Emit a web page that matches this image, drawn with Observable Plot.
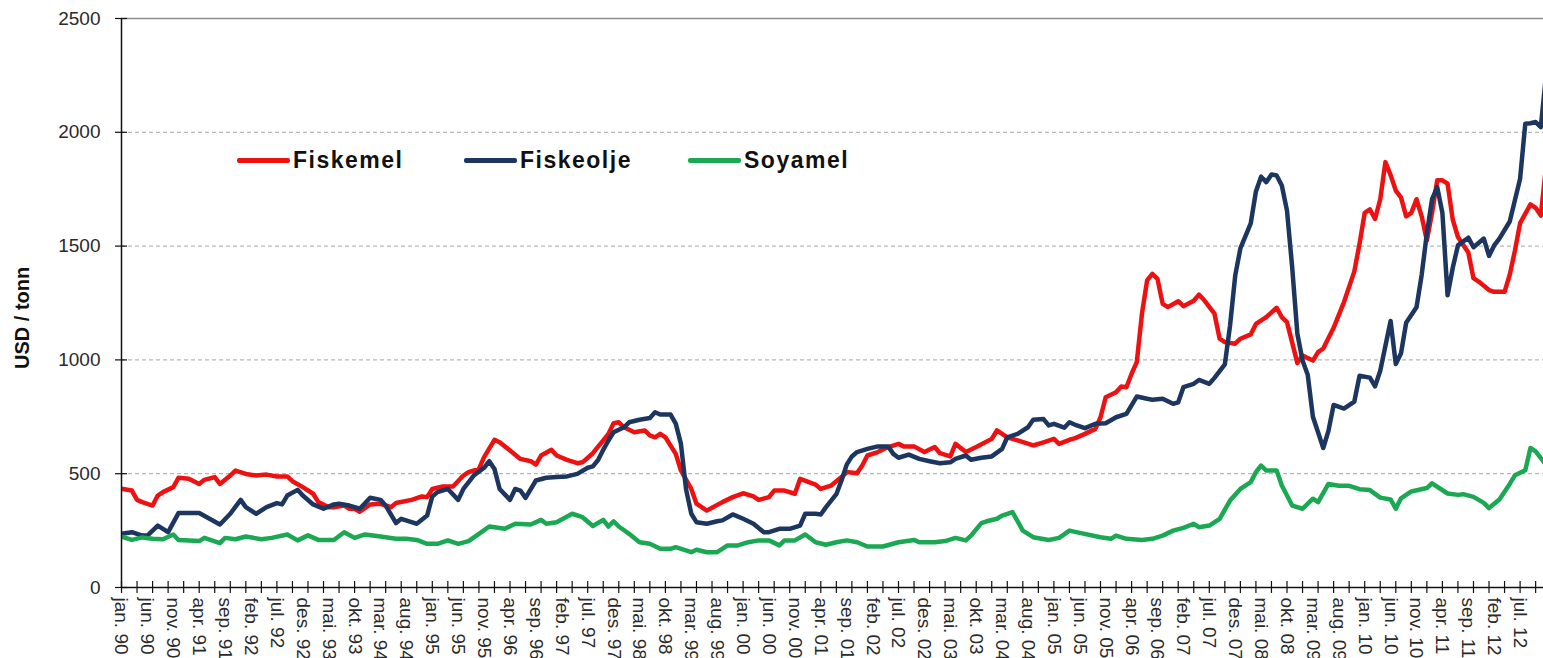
<!DOCTYPE html>
<html><head><meta charset="utf-8">
<script src="https://cdn.jsdelivr.net/npm/d3@7"></script>
<script src="https://cdn.jsdelivr.net/npm/@observablehq/plot@0.6"></script>
<style>
html,body{margin:0;padding:0;background:#fff;overflow:hidden;}
#wrap{position:relative;width:1543px;height:658px;}
.legend{font-family:"Liberation Sans",Arial,sans-serif;font-weight:bold;font-size:23px;letter-spacing:1.5px;color:#111;}
.item{position:absolute;top:147px;height:26px;display:flex;align-items:center;white-space:nowrap;}
.swatch{display:inline-block;width:53px;height:5px;border-radius:2px;margin-right:3px;}
</style></head><body><div id="wrap"></div>
<script>
// month index 0 = jan. 1990
const monthNames = ["jan","feb","mar","apr","mai","jun","jul","aug","sep","okt","nov","des"];
const seriesNames = ["Fiskemel","Fiskeolje","Soyamel"];
const seriesColors = ["#ee1111","#1c3660","#1aa852"];
const yTickValues = [0,500,1000,1500,2000,2500];
const gridValues = [500,1000,1500,2000];

const fiskemel = [[0,434],[2,426],[3,385],[4,375],[6,360],[7,404],[8,419],[10,441],[11,482],[13,478],[15,455],[16,473],[18,485],[19,455],[21,492],[22,514],[24,499],[26,492],[28,496],[30,488],[32,488],[33,467],[35,441],[37,412],[38,375],[40,353],[41,353],[43,360],[44,346],[45,346],[46,333],[48,365],[50,368],[52,353],[53,371],[56,385],[58,400],[59,397],[60,433],[62,444],[64,444],[66,492],[67,507],[69,521],[70,573],[72,649],[73,638],[75,602],[77,565],[79,555],[80,540],[81,580],[83,605],[84,580],[86,561],[88,546],[89,550],[91,590],[92,619],[93,646],[94,675],[95,722],[96,726],[97,704],[99,682],[101,690],[102,668],[103,660],[104,675],[105,660],[107,587],[108,514],[110,433],[111,368],[113,338],[114,350],[116,375],[118,397],[120,414],[122,400],[123,385],[125,397],[126,426],[128,426],[130,412],[131,477],[134,452],[135,433],[137,448],[139,485],[140,507],[142,502],[143,536],[144,580],[146,595],[148,617],[150,631],[151,620],[153,620],[155,595],[157,617],[158,590],[160,576],[161,631],[163,595],[165,617],[168,653],[169,690],[171,660],[173,646],[176,624],[178,638],[180,653],[181,631],[183,649],[184,655],[186,675],[188,697],[189,748],[190,836],[192,858],[193,883],[194,880],[195,939],[196,990],[197,1203],[198,1349],[199,1378],[200,1356],[201,1246],[202,1232],[204,1258],[205,1236],[207,1260],[208,1287],[209,1263],[211,1203],[212,1093],[213,1078],[215,1071],[216,1093],[218,1112],[219,1158],[221,1188],[223,1229],[224,1188],[225,1166],[227,986],[228,1019],[230,997],[231,1034],[232,1050],[234,1141],[236,1254],[238,1389],[239,1510],[240,1646],[241,1661],[242,1619],[243,1706],[244,1869],[245,1812],[246,1744],[247,1714],[248,1631],[249,1646],[250,1706],[251,1631],[252,1525],[253,1646],[254,1789],[255,1789],[256,1774],[257,1616],[258,1540],[260,1472],[261,1359],[262,1344],[264,1307],[265,1299],[267,1299],[268,1374],[269,1480],[270,1601],[272,1683],[273,1668],[274,1634],[275,1850]];

const fiskeolje = [[0,236],[2,243],[4,228],[5,228],[7,272],[9,243],[11,327],[15,327],[17,302],[19,277],[21,324],[23,385],[24,353],[26,324],[28,353],[30,371],[31,365],[32,404],[34,429],[35,404],[37,365],[39,346],[41,365],[42,368],[44,360],[46,346],[48,394],[50,385],[51,360],[53,283],[54,302],[56,287],[57,280],[59,316],[60,400],[61,419],[63,433],[65,385],[66,433],[68,492],[70,526],[71,555],[72,521],[73,433],[75,385],[76,433],[77,426],[78,394],[80,470],[82,482],[84,485],[86,488],[88,499],[90,526],[91,532],[92,560],[93,605],[94,646],[95,682],[97,704],[98,726],[100,737],[102,745],[103,770],[104,760],[106,760],[107,720],[108,631],[109,430],[110,324],[111,287],[113,280],[115,291],[116,295],[118,321],[120,302],[122,280],[124,243],[125,243],[127,258],[129,258],[131,272],[132,324],[134,324],[135,321],[136,353],[138,410],[139,470],[140,540],[141,576],[142,595],[144,609],[146,620],[148,620],[149,587],[150,570],[152,584],[154,565],[156,555],[158,546],[160,550],[161,565],[163,580],[164,561],[166,570],[168,576],[170,609],[171,660],[173,675],[175,704],[176,737],[178,740],[179,712],[180,719],[182,702],[183,726],[184,716],[186,700],[188,719],[190,722],[192,748],[194,763],[196,839],[198,829],[199,825],[201,829],[203,807],[204,814],[205,880],[207,895],[208,912],[210,895],[211,921],[213,980],[214,1150],[215,1370],[216,1490],[217,1545],[218,1600],[219,1740],[220,1805],[221,1781],[222,1815],[223,1810],[224,1766],[225,1656],[226,1407],[227,1115],[228,997],[229,935],[230,750],[232,613],[233,688],[234,802],[236,786],[238,817],[239,930],[241,922],[242,884],[243,952],[245,1171],[246,982],[247,1028],[248,1163],[250,1231],[251,1374],[252,1555],[253,1706],[254,1759],[255,1646],[256,1284],[257,1405],[258,1503],[260,1537],[261,1495],[263,1533],[264,1457],[265,1503],[266,1533],[268,1608],[270,1796],[271,2038],[272,2040],[273,2045],[274,2023],[275,2250]];

const soyamel = [[0,224],[2,209],[4,220],[6,214],[8,212],[10,233],[11,209],[15,204],[16,218],[19,195],[20,218],[22,212],[24,224],[27,212],[29,218],[32,233],[34,207],[36,229],[38,209],[41,209],[43,243],[45,218],[47,233],[50,224],[53,214],[55,214],[57,209],[59,192],[61,192],[63,207],[65,192],[67,204],[69,236],[71,268],[74,258],[76,280],[79,277],[81,297],[82,280],[84,287],[87,324],[89,309],[91,270],[93,297],[94,268],[95,291],[96,268],[98,236],[100,199],[102,192],[104,170],[106,170],[107,177],[110,155],[111,166],[113,155],[115,155],[117,185],[119,185],[121,199],[123,207],[125,207],[127,185],[128,207],[130,207],[132,233],[134,199],[136,188],[138,199],[140,207],[142,199],[144,180],[147,180],[150,199],[153,209],[154,199],[157,199],[159,204],[161,218],[163,207],[164,228],[166,283],[167,291],[169,302],[170,316],[172,331],[173,291],[174,250],[176,221],[179,209],[181,218],[183,250],[185,240],[189,221],[191,214],[192,228],[194,214],[197,209],[199,214],[201,228],[203,250],[205,262],[207,280],[208,265],[210,272],[212,302],[214,382],[216,433],[218,463],[219,507],[220,536],[221,514],[223,514],[224,448],[226,360],[228,346],[230,390],[231,375],[233,455],[235,447],[237,447],[239,432],[241,428],[243,395],[245,387],[246,346],[247,392],[249,422],[252,437],[253,458],[256,413],[258,407],[259,410],[261,398],[263,372],[264,349],[266,387],[268,455],[269,493],[271,515],[272,613],[273,598],[275,540]];

const tickMonths = d3.range(0, 275, 3);
const labelMonths = d3.range(0, 271, 5);
const fmtMonth = m => monthNames[m % 12] + ". " + String((90 + Math.floor(m / 12)) % 100).padStart(2, "0");

const seriesData = [fiskemel, fiskeolje, soyamel];
const rows = seriesData.flatMap((data, i) => data.map(([m, v]) => ({series: seriesNames[i], m, v})));

const W = 1543, H = 658, ML = 121, MT = 18, MB = 71;
const pxPerMonth = 5.18;

const chart = Plot.plot({
  width: W, height: H,
  marginLeft: ML, marginRight: 0, marginTop: MT, marginBottom: MB,
  style: {fontFamily: "'Liberation Sans', Arial, sans-serif", background: "white"},
  x: {domain: [0, 280], range: [ML, ML + pxPerMonth * 280], axis: null},
  y: {domain: [0, 2500], axis: null},
  color: {domain: seriesNames, range: seriesColors},
  marks: [
    Plot.ruleY(gridValues, {stroke: "#a6a6a6", strokeDasharray: "4,3", strokeWidth: 1}),
    Plot.ruleY([2500], {stroke: "#8c8c8c", strokeWidth: 1.6}),
    Plot.line(rows, {x: "m", y: "v", z: "series", stroke: "series", strokeWidth: 4.5, strokeLinejoin: "round", strokeLinecap: "round", clip: true}),
    Plot.ruleX([0], {stroke: "#111", strokeWidth: 1.5}),
    Plot.ruleY([0], {stroke: "#111", strokeWidth: 1.5}),
    Plot.tickX(tickMonths, {x: d => d, stroke: "#111", strokeWidth: 1.2, insetTop: (H - MT - MB) - 6, insetBottom: -6}),
    Plot.tickY(yTickValues, {y: d => d, stroke: "#111", strokeWidth: 1.2, insetLeft: -6, insetRight: (W - ML) - 6}),
    Plot.text(yTickValues, {y: d => d, text: d => String(d), frameAnchor: "left", dx: -21, textAnchor: "end", fontSize: 19, fill: "#2a2a2a"}),
    Plot.text(labelMonths, {x: d => d, text: fmtMonth, frameAnchor: "bottom", rotate: 90, textAnchor: "start", lineAnchor: "middle", dy: 10, fontSize: 19, fill: "#2a2a2a"}),
    Plot.text(["USD / tonn"], {frameAnchor: "left", dx: -99, dy: 66, rotate: -90, fontWeight: "bold", fontSize: 20, fill: "#111"})
  ]
});

const wrap = document.getElementById("wrap");
wrap.appendChild(chart);

// legend (HTML overlay inside plot area)
const legendLeft = [237, 464, 688];
const legend = document.createElement("div");
legend.className = "legend";
seriesNames.forEach((name, i) => {
  const item = document.createElement("div");
  item.className = "item";
  item.style.left = legendLeft[i] + "px";
  const sw = document.createElement("span");
  sw.className = "swatch";
  sw.style.background = seriesColors[i];
  const t = document.createElement("span");
  t.textContent = name;
  item.appendChild(sw);
  item.appendChild(t);
  legend.appendChild(item);
});
wrap.appendChild(legend);
</script></body></html>
